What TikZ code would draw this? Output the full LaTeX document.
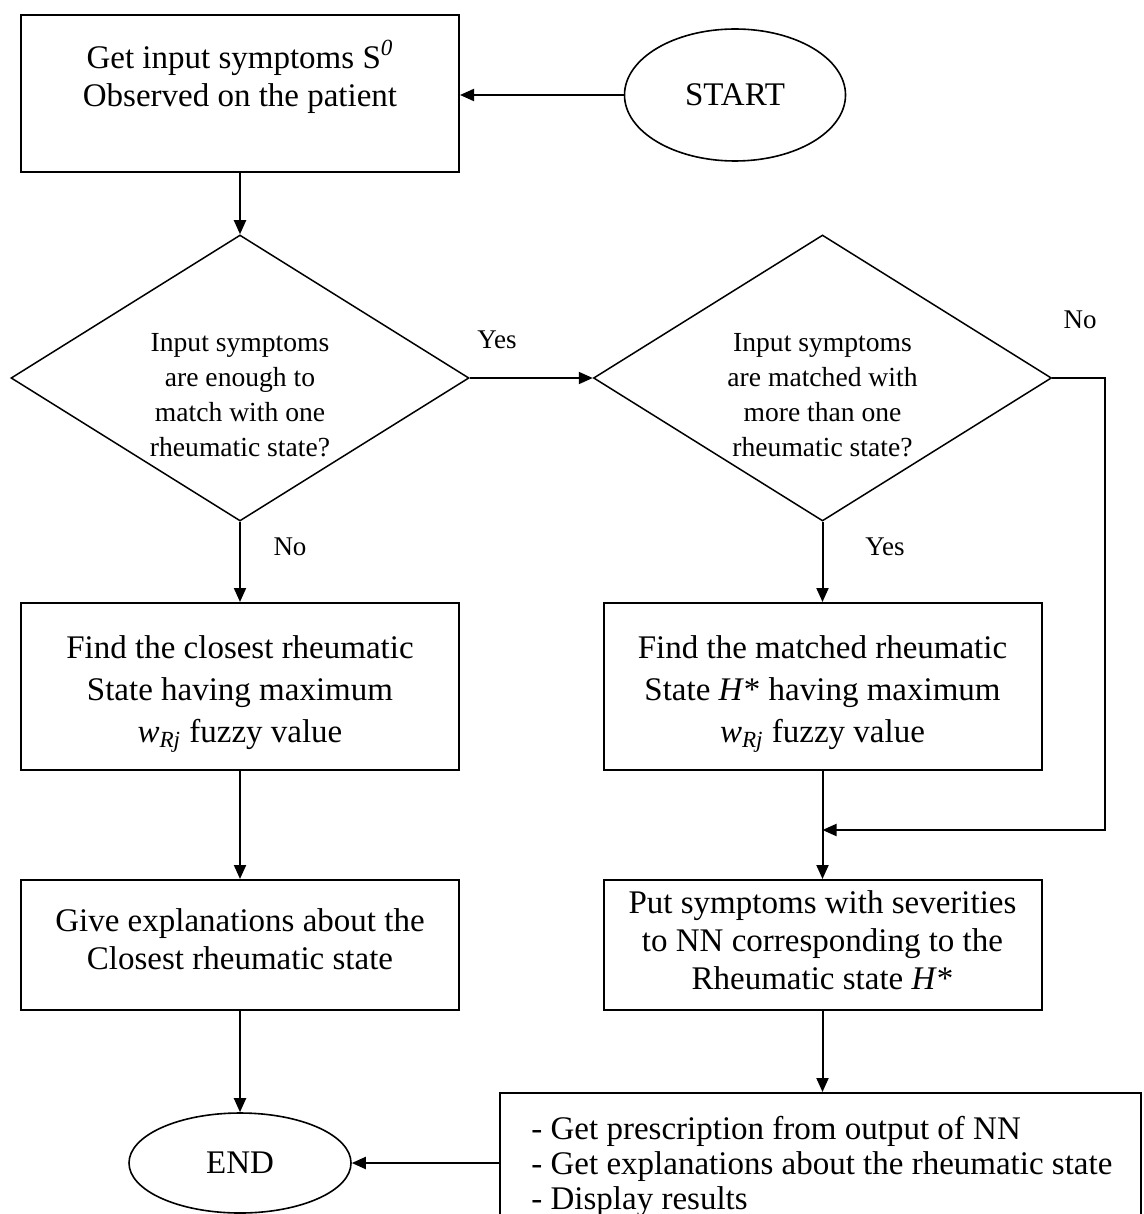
\documentclass[tikz,border=0pt]{standalone}
\usepackage{fontspec}
\setmainfont{Liberation Serif}
\usetikzlibrary{shapes.geometric,arrows.meta}
\newlength{\pxu}\setlength{\pxu}{0.5pt}
\begin{document}
\begin{tikzpicture}[x=0.5pt,y=-0.5pt,
  flowbox/.style={draw,rectangle,line width=1pt,inner sep=0pt},
  decision/.style={draw,diamond,line width=0.75pt,inner sep=0pt,
    minimum width=458\pxu,minimum height=286\pxu},
  terminal/.style={draw,ellipse,line width=0.8pt,inner sep=0pt},
  boxtext/.style={align=center,inner sep=0pt,font={\fontsize{16.5pt}{19pt}\selectfont}},
  widetext/.style={align=center,inner sep=0pt,font={\fontsize{16.5pt}{21pt}\selectfont}},
  listtext/.style={align=left,inner sep=0pt,anchor=west,font={\fontsize{16.5pt}{17.5pt}\selectfont}},
  asktext/.style={align=center,inner sep=0pt,font={\fontsize{13.8pt}{17.5pt}\selectfont}},
  answer/.style={inner sep=0pt,font={\fontsize{13.5pt}{16pt}\selectfont}},
  conn/.style={line width=1pt,-{Triangle[length=7pt,width=6pt]}}]
\useasboundingbox (0,0) rectangle (1144,1214);
\clip (0,0) rectangle (1144,1214);

% terminals
\node[terminal,minimum width=221\pxu,minimum height=132\pxu] (start) at (735,95)
  {\fontsize{16.5pt}{19pt}\selectfont START};
\node[terminal,minimum width=222\pxu,minimum height=100\pxu] (end) at (240,1163)
  {\fontsize{16.5pt}{19pt}\selectfont END};

% process boxes, left column
\node[flowbox,minimum width=438\pxu,minimum height=157\pxu] (b1) at (240,93.5) {};
\node[boxtext] (t1) at (240,77) {Get input symptoms S\textsuperscript{\textit{0}}\\Observed on the patient};

\node[flowbox,minimum width=438\pxu,minimum height=167\pxu] (b2) at (240,686.5) {};
\node[widetext] (t2) at (240,694) {Find the closest rheumatic\\State having maximum\\\textit{w}\textsubscript{\textit{Rj}} fuzzy value};

\node[flowbox,minimum width=438\pxu,minimum height=130\pxu] (b4) at (240,945) {};
\node[boxtext] (t4) at (240,939) {Give explanations about the\\Closest rheumatic state};

% process boxes, right column
\node[flowbox,minimum width=438\pxu,minimum height=167\pxu] (b3) at (822.5,686.5) {};
\node[widetext] (t3) at (822.5,694) {Find the matched rheumatic\\State \textit{H}* having maximum\\\textit{w}\textsubscript{\textit{Rj}} fuzzy value};

\node[flowbox,minimum width=438\pxu,minimum height=130\pxu] (b5) at (822.5,945) {};
\node[boxtext] (t5) at (822.5,940) {Put symptoms with severities\\to NN corresponding to the\\Rheumatic state \textit{H}*};

\node[flowbox,minimum width=641\pxu,minimum height=150\pxu] (b6) at (820.5,1168) {};
\node[listtext] (t6) at (531,1166) {- Get prescription from output of NN\\- Get explanations about the rheumatic state\\- Display results};

% decisions
\node[decision] (d1) at (240,378) {};
\node[asktext] (q1) at (240,395) {Input symptoms\\are enough to\\match with one\\rheumatic state?};
\node[decision] (d2) at (822.5,378) {};
\node[asktext] (q2) at (822.5,395) {Input symptoms\\are matched with\\more than one\\rheumatic state?};

% connectors
\draw[conn] (start.west) -- (start.west -| b1.east);
\draw[conn] (b1.south) -- (d1.north);
\draw[conn] (d1.east) -- (d2.west);
\draw[conn] (d1.south) -- (b2.north);
\draw[conn] (d2.south) -- (b3.north);
\draw[conn] (b2.south) -- (b4.north);
\draw[conn] (b3.south) -- (b5.north);
\coordinate (corner) at (1105,378);
\coordinate (merge) at (822.5,830);
\draw[conn] (d2.east) -- (corner) |- (merge);
\draw[conn] (b4.south) -- (end.north);
\draw[conn] (b5.south) -- (b6.north -| b5.south);
\draw[conn] (end.east -| b6.west) -- (end.east);

% branch labels
\node[answer] (yes1) at (497,340) {Yes};
\node[answer] (no1) at (290,547) {No};
\node[answer] (yes2) at (885,547) {Yes};
\node[answer] (no2) at (1080,320) {No};
\end{tikzpicture}
\end{document}
